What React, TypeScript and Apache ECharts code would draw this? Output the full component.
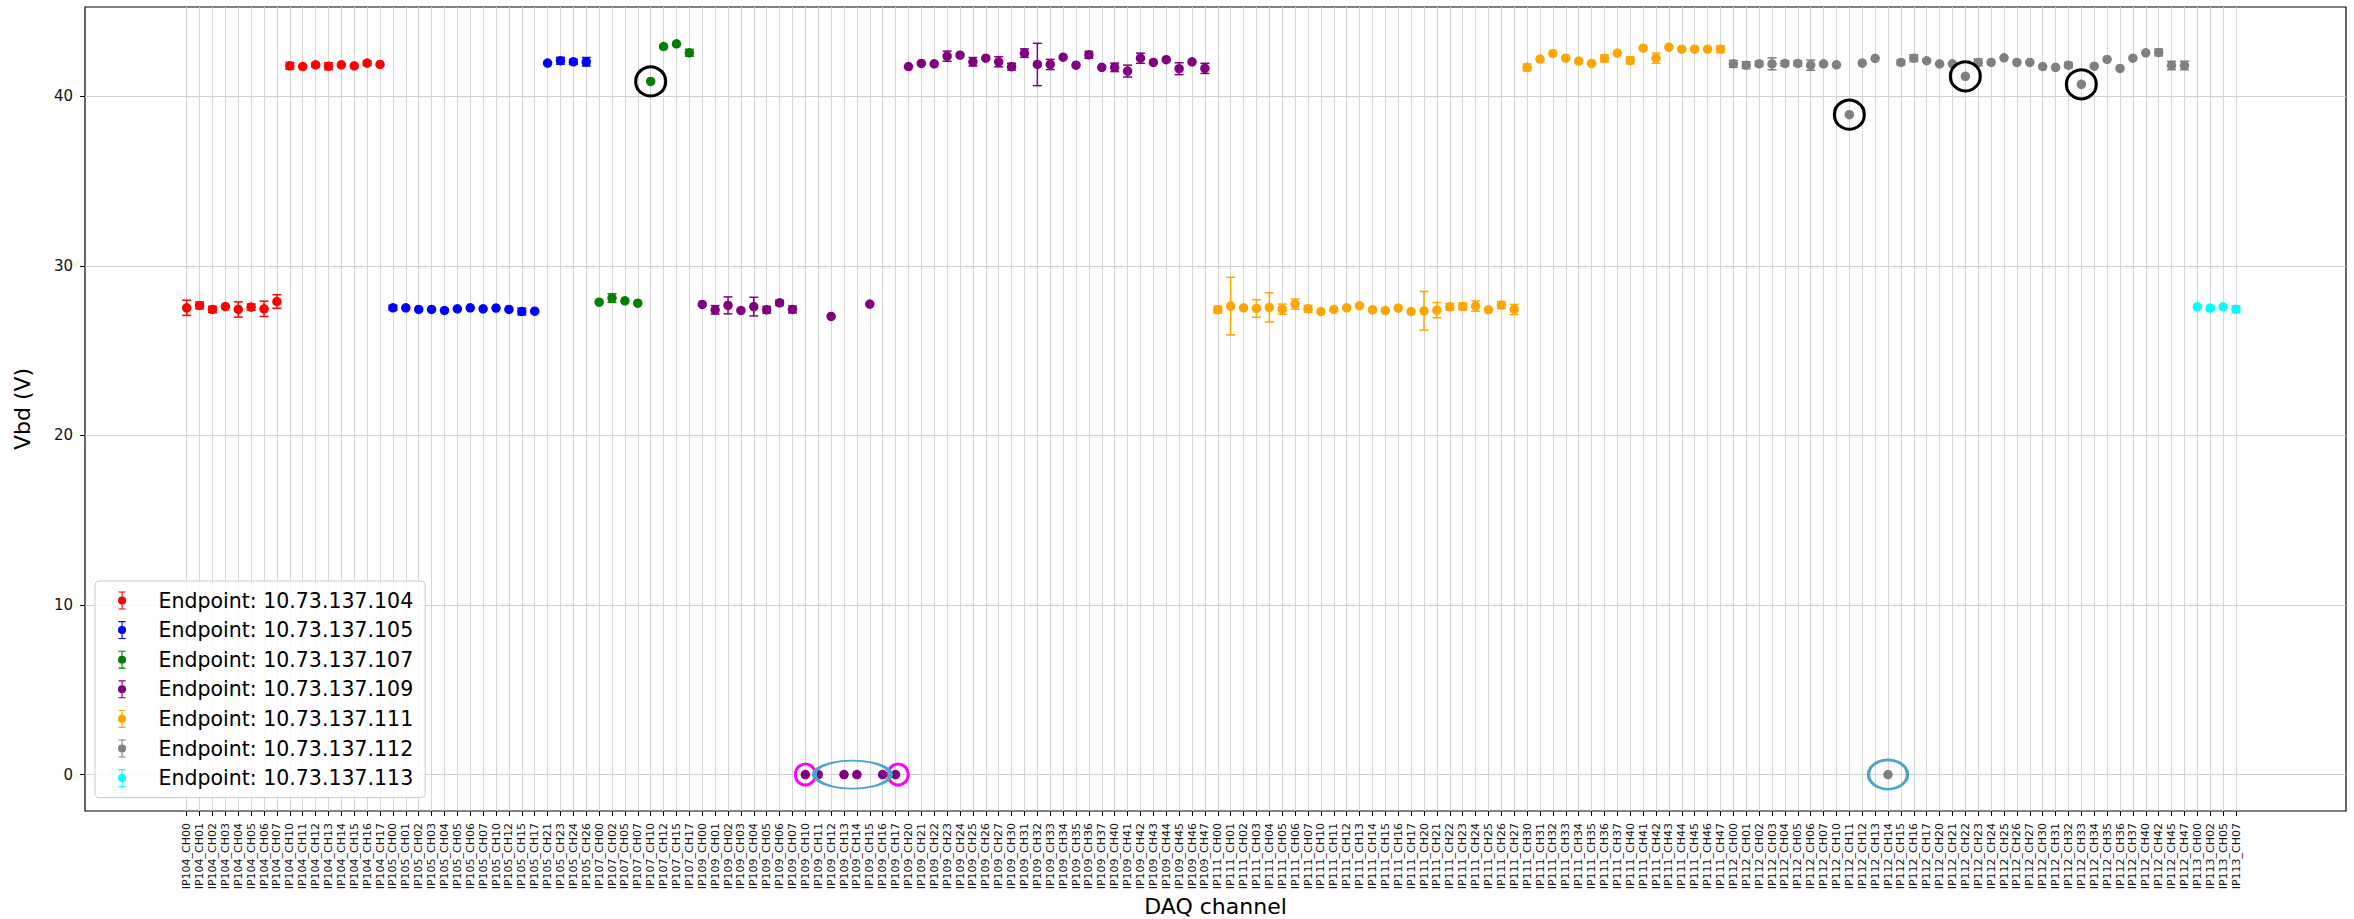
import React, { useEffect, useRef } from "react";
import * as echarts from "echarts";

const FONT = "DejaVu Sans";

// ---- categories / values per endpoint ----
const ip104Channels = ["CH00","CH01","CH02","CH03","CH04","CH05","CH06","CH07","CH10","CH11","CH12","CH13","CH14","CH15","CH16","CH17"];
const ip104Vbd = [27.53,27.67,27.43,27.6,27.43,27.57,27.47,27.9,41.8,41.76,41.86,41.78,41.86,41.8,41.96,41.88];
const ip104Err = [0.45,0.2,0.18,0,0.45,0.18,0.45,0.4,0.2,0,0.12,0.2,0,0,0.12,0];

const ip105Channels = ["CH00","CH01","CH02","CH03","CH04","CH05","CH06","CH07","CH10","CH12","CH15","CH17","CH21","CH23","CH24","CH26"];
const ip105Vbd = [27.53,27.53,27.43,27.43,27.37,27.47,27.53,27.47,27.51,27.43,27.31,27.33,41.96,42.1,42.04,42.04];
const ip105Err = [0.15,0,0,0,0,0,0,0,0,0,0.2,0,0,0.2,0.15,0.25];

const ip107Channels = ["CH00","CH02","CH05","CH07","CH10","CH12","CH15","CH17"];
const ip107Vbd = [27.86,28.1,27.94,27.8,40.88,42.94,43.1,42.57];
const ip107Err = [0,0.25,0,0,0,0,0,0.2];

const ip109Channels = ["CH00","CH01","CH02","CH03","CH04","CH05","CH06","CH07","CH10","CH11","CH12","CH13","CH14","CH15","CH16","CH17","CH20","CH21","CH22","CH23","CH24","CH25","CH26","CH27","CH30","CH31","CH32","CH33","CH34","CH35","CH36","CH37","CH40","CH41","CH42","CH43","CH44","CH45","CH46","CH47"];
const ip109Vbd = [27.73,27.41,27.67,27.37,27.6,27.41,27.82,27.43, 0,0,27.02,0,0,27.75,0,0, 41.76,41.94,41.92,42.37,42.43,42.04,42.25,42.04, 41.75,42.55,41.88,41.88,42.31,41.84,42.45,41.71, 41.71,41.49,42.25,42.0,42.16,41.63,42.04,41.65];
const ip109Err = [0,0.25,0.5,0,0.55,0.2,0.15,0.2, 0,0,0,0,0,0,0,0, 0,0,0,0.3,0,0.25,0,0.3, 0.2,0.25,1.25,0.3,0,0,0.2,0, 0.25,0.35,0.3,0,0,0.35,0,0.3];

const ip111Channels = ["CH00","CH01","CH02","CH03","CH04","CH05","CH06","CH07","CH10","CH11","CH12","CH13","CH14","CH15","CH16","CH17","CH20","CH21","CH22","CH23","CH24","CH25","CH26","CH27","CH30","CH31","CH32","CH33","CH34","CH35","CH36","CH37","CH40","CH41","CH42","CH43","CH44","CH45","CH46","CH47"];
const ip111Vbd = [27.41,27.63,27.53,27.49,27.55,27.45,27.75,27.47, 27.31,27.43,27.53,27.65,27.41,27.37,27.51,27.31, 27.35,27.39,27.59,27.61,27.63,27.41,27.69,27.43, 41.71,42.2,42.53,42.25,42.08,41.94,42.24,42.55, 42.12,42.84,42.25,42.9,42.78,42.78,42.78,42.78];
const ip111Err = [0.2,1.7,0,0.52,0.86,0.3,0.3,0.2, 0,0,0,0,0,0,0,0, 1.14,0.45,0.2,0.2,0.3,0,0.2,0.3, 0.2,0,0,0,0,0,0.2,0, 0.2,0,0.3,0,0,0,0,0.2];

const ip112Channels = ["CH00","CH01","CH02","CH03","CH04","CH05","CH06","CH07","CH10","CH11","CH12","CH13","CH14","CH15","CH16","CH17","CH20","CH21","CH22","CH23","CH24","CH25","CH26","CH27","CH30","CH31","CH32","CH33","CH34","CH35","CH36","CH37","CH40","CH42","CH45","CH47"];
const ip112Vbd = [41.92,41.84,41.92,41.92,41.94,41.94,41.84,41.92, 41.86,38.92,41.96,42.24,0,42.0,42.25,42.1, 41.92,41.92,41.18,42.0,42.0,42.27,42.0,42.0, 41.76,41.71,41.84,40.71,41.78,42.18,41.65,42.25, 42.57,42.59,41.82,41.82];
const ip112Err = [0.2,0.2,0.15,0.35,0.15,0.15,0.3,0, 0,0,0,0,0,0.15,0.2,0, 0,0,0,0.2,0,0,0,0, 0,0,0.15,0,0,0,0,0, 0,0.2,0.25,0.25];

const ip113Channels = ["CH00","CH02","CH05","CH07"];
const ip113Vbd = [27.59,27.51,27.59,27.45];
const ip113Err = [0,0.15,0,0.2];

const endpointPrefixes = ["IP104","IP105","IP107","IP109","IP111","IP112","IP113"];
const endpointNames = [
  "Endpoint: 10.73.137.104",
  "Endpoint: 10.73.137.105",
  "Endpoint: 10.73.137.107",
  "Endpoint: 10.73.137.109",
  "Endpoint: 10.73.137.111",
  "Endpoint: 10.73.137.112",
  "Endpoint: 10.73.137.113",
];
const endpointColors = ["#ff0000","#0000ff","#008000","#800080","#ffa500","#808080","#00ffff"];
const channelLists = [ip104Channels, ip105Channels, ip107Channels, ip109Channels, ip111Channels, ip112Channels, ip113Channels];
const vbdLists = [ip104Vbd, ip105Vbd, ip107Vbd, ip109Vbd, ip111Vbd, ip112Vbd, ip113Vbd];
const errLists = [ip104Err, ip105Err, ip107Err, ip109Err, ip111Err, ip112Err, ip113Err];

const yTicks = [0, 10, 20, 30, 40];
const Y_MIN = -2.15;
const Y_MAX = 45.27;

// annotation marks (channel index, Vbd)
const outlierRings = [[36, 40.88], [129, 38.92], [138, 41.18], [147, 40.71]];
const deadRings = [[48, 0], [55.2, 0]];
const zeroEllipses = [[51.65, 0], [132, 0]];

const ERR_ICON =
  "path://M6.4,0H7.6V5.5H6.4Z M3,0H11V1.2H3Z M6.4,14.5H7.6V20H6.4Z M3,18.8H11V20H3Z M2.5,10A4.5,4.5 0 1,0 11.5,10A4.5,4.5 0 1,0 2.5,10Z";

function buildOption() {
  const categories: string[] = [];
  const offsets: number[] = [];
  channelLists.forEach((chs, e) => {
    offsets.push(categories.length);
    chs.forEach((c) => categories.push(`${endpointPrefixes[e]}_${c}`));
  });

  const series: any[] = [];
  endpointNames.forEach((name, e) => {
    const color = endpointColors[e];
    const off = offsets[e];
    const errData = vbdLists[e]
      .map((v, i) => [off + i, v, errLists[e][i]])
      .filter((d) => d[2] > 0);
    series.push({
      type: "custom",
      name: name + " err",
      xAxisIndex: 1,
      yAxisIndex: 1,
      z: 2,
      silent: true,
      encode: { x: 0, y: 1 },
      data: errData,
      renderItem: (_p: any, api: any) => {
        const x = api.value(0);
        const v = api.value(1);
        const er = api.value(2);
        const top = api.coord([x, v + er]);
        const bot = api.coord([x, v - er]);
        const hw = 4.5;
        const style = { stroke: color, lineWidth: 1.5, fill: "none" };
        return {
          type: "group",
          children: [
            { type: "line", shape: { x1: top[0], y1: top[1], x2: bot[0], y2: bot[1] }, style },
            { type: "line", shape: { x1: top[0] - hw, y1: top[1], x2: top[0] + hw, y2: top[1] }, style },
            { type: "line", shape: { x1: bot[0] - hw, y1: bot[1], x2: bot[0] + hw, y2: bot[1] }, style },
          ],
        };
      },
    });
    series.push({
      type: "scatter",
      name,
      xAxisIndex: 1,
      yAxisIndex: 1,
      z: 3,
      symbol: "circle",
      symbolSize: 9.5,
      itemStyle: { color, opacity: 1 },
      data: vbdLists[e].map((v, i) => [off + i, v]),
    });
  });

  const ring = (data: number[][], size: number[], color: string) => ({
    type: "scatter",
    xAxisIndex: 2,
    yAxisIndex: 1,
    z: 5,
    silent: true,
    symbol: "circle",
    itemStyle: { color: "rgba(0,0,0,0)", borderColor: color, borderWidth: 3, opacity: 1 },
    data: data.map((d) => ({ value: d, symbolSize: size })),
  });
  series.push(ring(outlierRings, [30, 29], "#000000"));
  series.push(ring(deadRings, [20, 21], "#ff00ff"));
  series.push(ring([zeroEllipses[0]], [76, 28], "#4ba6c8"));
  series.push(ring([zeroEllipses[1]], [39, 29], "#4ba6c8"));

  return {
    animation: false,
    backgroundColor: "#ffffff",
    textStyle: { fontFamily: FONT },
    grid: [
      {
        left: 85, right: 8, top: 7, bottom: 108,
        containLabel: false, outerBoundsMode: "none",
        show: true, borderColor: "#000", borderWidth: 1.2, backgroundColor: "rgba(0,0,0,0)",
      },
      { left: 186.7, right: 118, top: 7, bottom: 108, containLabel: false, outerBoundsMode: "none" },
    ],
    xAxis: [
      {
        gridIndex: 0,
        type: "value",
        min: 0,
        max: 1,
        axisLine: { show: false, onZero: false },
        axisTick: { show: false },
        axisLabel: { show: false },
        splitLine: { show: false },
        name: "DAQ channel",
        nameLocation: "middle",
        nameGap: 84,
        nameTextStyle: { fontFamily: FONT, fontSize: 22, color: "#000" },
      },
      {
        gridIndex: 1,
        type: "category",
        data: categories,
        boundaryGap: false,
        position: "bottom",
        axisLine: { show: false, onZero: false },
        axisTick: { show: true, inside: false, length: 5, interval: 0, lineStyle: { color: "#000", width: 1 } },
        axisLabel: { interval: 0, rotate: 90, fontSize: 11, margin: 12, color: "#111", fontFamily: FONT },
        splitLine: { show: true, interval: 0, lineStyle: { color: "#d6d6d6", width: 1 } },
      },
      { gridIndex: 1, type: "value", min: 0, max: categories.length - 1, show: false, axisLine: { onZero: false } },
    ],
    yAxis: [
      {
        gridIndex: 0,
        type: "value",
        min: Y_MIN,
        max: Y_MAX,
        minInterval: 10,
        maxInterval: 10,
        axisLine: { show: false, onZero: false },
        axisTick: { show: true, length: 5, customValues: yTicks, lineStyle: { color: "#000" } },
        axisLabel: {
          fontSize: 15,
          margin: 12,
          color: "#111",
          fontFamily: FONT,
          customValues: yTicks,
          formatter: (v: number) => (yTicks.some((t) => Math.abs(t - v) < 1e-6) ? String(Math.round(v)) : ""),
        },
        splitLine: { show: true, lineStyle: { color: "#d0d0d0", width: 1 } },
        name: "Vbd (V)",
        nameLocation: "middle",
        nameGap: 52,
        nameTextStyle: { fontFamily: FONT, fontSize: 22, color: "#000" },
      },
      { gridIndex: 1, type: "value", min: Y_MIN, max: Y_MAX, show: false, axisLine: { onZero: false } },
    ],
    legend: {
      orient: "vertical",
      left: 95,
      top: 581,
      selectedMode: false,
      itemWidth: 9,
      itemHeight: 18,
      itemGap: 8.6,
      padding: [9, 12, 9, 23],
      backgroundColor: "rgba(255,255,255,0.85)",
      borderColor: "#cccccc",
      borderWidth: 1,
      borderRadius: 4,
      textStyle: { fontFamily: FONT, fontSize: 20.5, color: "#000", padding: [0, 0, 0, 27] },
      data: endpointNames.map((n) => ({ name: n, icon: ERR_ICON })),
    },
    series,
  };
}

export default function App() {
  const ref = useRef<HTMLDivElement>(null);
  useEffect(() => {
    const chart = echarts.init(ref.current as HTMLDivElement, null, { renderer: "svg" });
    chart.setOption(buildOption() as any);
    return () => chart.dispose();
  }, []);
  return (
    <div
      ref={ref}
      style={{ position: "absolute", left: 0, top: 0, width: 2354, height: 919, background: "#fff" }}
    />
  );
}
